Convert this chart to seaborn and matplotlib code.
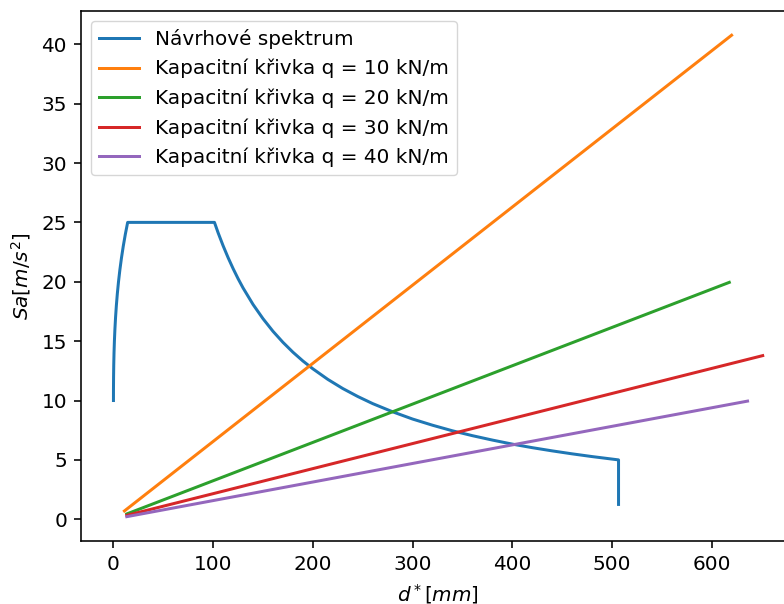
import matplotlib
matplotlib.use("Agg")
import matplotlib.pyplot as plt
import seaborn as sns
import pandas as pd

# Design spectrum in ADRS form (displacement d* [mm], acceleration Sa [m/s2])
spec_d = [0.0, 0.028, 0.122, 0.296, 0.567, 0.950, 1.459, 2.110, 2.918, 3.898,
          5.066, 6.436, 8.025, 9.846, 11.915, 14.248,
          101.3, 105, 110, 115, 120, 125, 130, 140, 150, 160, 170, 180, 190,
          200, 215, 230, 245, 260, 280, 300, 320, 340, 360, 380, 400, 420,
          440, 460, 480, 506.6, 506.6]
spec_sa = [10.0, 11.0, 12.0, 13.0, 14.0, 15.0, 16.0, 17.0, 18.0, 19.0,
           20.0, 21.0, 22.0, 23.0, 24.0, 25.0,
           25.0, 24.12, 23.03, 22.03, 21.11, 20.26, 19.48, 18.09, 16.89, 15.83,
           14.90, 14.07, 13.33, 12.67, 11.78, 11.01, 10.34, 9.74, 9.05, 8.44,
           7.92, 7.45, 7.04, 6.67, 6.33, 6.03, 5.76, 5.51, 5.28, 5.00, 1.25]

# Capacity curves for the individual load levels
cap_loads = [10, 20, 30, 40]
cap_d = [[11.0, 620.0], [13.4, 617.7], [13.4, 651.2], [13.4, 636.0]]
cap_sa = [[0.70, 40.76], [0.45, 19.95], [0.33, 13.78], [0.22, 9.95]]

labels = ["Návrhové spektrum"] + [f"Kapacitní křivka q = {q} kN/m" for q in cap_loads]

frames = [pd.DataFrame({"d": spec_d, "sa": spec_sa, "serie": labels[0]})]
for lab, d, sa in zip(labels[1:], cap_d, cap_sa):
    frames.append(pd.DataFrame({"d": d, "sa": sa, "serie": lab}))
df = pd.concat(frames, ignore_index=True)

s = 1.44  # figure is rendered at 144 dpi-equivalent sizing
plt.rcParams["font.family"] = ["DejaVu Sans"]
plt.rcParams["font.size"] = 10 * s
plt.rcParams["axes.linewidth"] = 0.8 * s
plt.rcParams["axes.labelpad"] = 4 * s

fig = plt.figure(figsize=(7.84, 6.04), dpi=100)
ax = fig.add_axes([81 / 784, 1 - 541 / 604, (795 - 81) / 784, (541 - 11) / 604])

palette = ["#1f77b4", "#ff7f0e", "#2ca02c", "#d62728", "#9467bd"]
sns.lineplot(data=df, x="d", y="sa", hue="serie", hue_order=labels, palette=palette,
             units="serie", estimator=None, sort=False, linewidth=1.5 * s, ax=ax)

ax.set_xlabel(r"$d^*[mm]$")
ax.set_ylabel(r"$Sa[m/s^2]$")
ax.set_xticks([0, 100, 200, 300, 400, 500, 600])
ax.set_yticks([0, 5, 10, 15, 20, 25, 30, 35, 40])
ax.set_xlim(-32.55, 683.6)
ax.set_ylim(-1.83, 42.8)
ax.tick_params(length=3.5 * s, width=0.8 * s, pad=3.5 * s)
ax.legend(loc="upper left", title=None, fontsize=10 * s)

fig.savefig("out.png", dpi=100)
